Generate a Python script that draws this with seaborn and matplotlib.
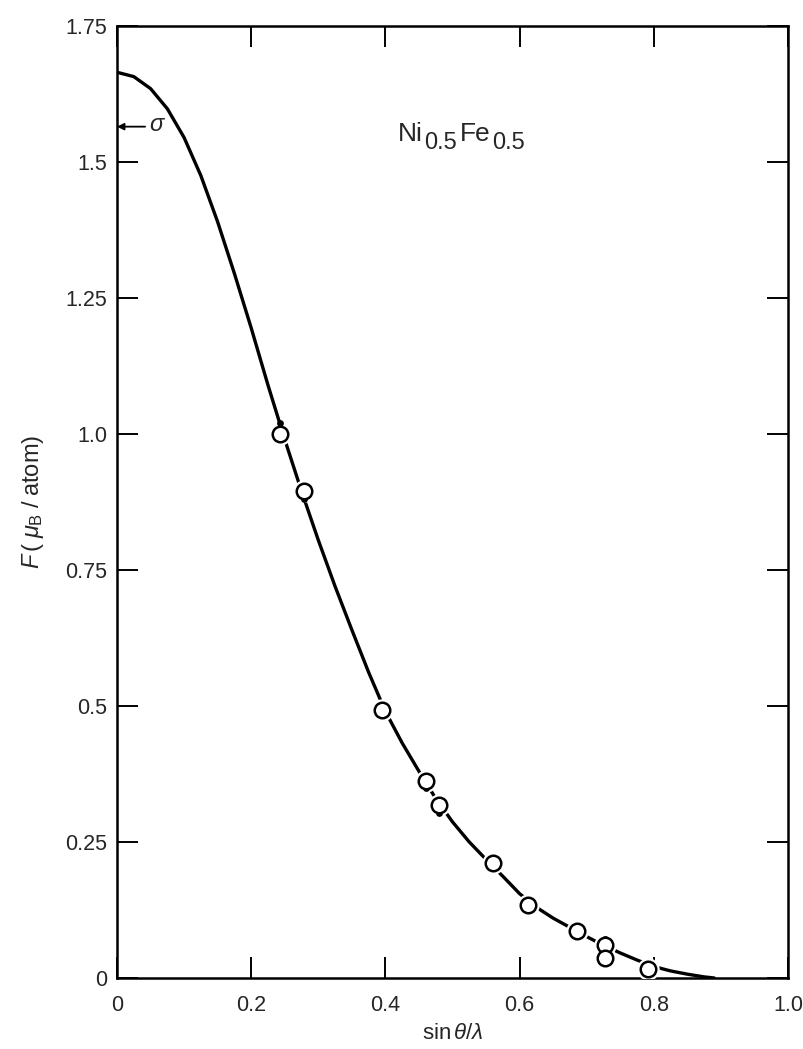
import numpy as np
import pandas as pd
import seaborn as sns
import matplotlib
matplotlib.use("Agg")
import matplotlib.pyplot as plt

# ---- data ----
curve_x = [0.0, 0.025, 0.05, 0.075, 0.1, 0.125, 0.15, 0.175, 0.2, 0.225,
           0.25, 0.275, 0.3, 0.325, 0.35, 0.375, 0.4, 0.425, 0.45, 0.475,
           0.5, 0.525, 0.55, 0.575, 0.6, 0.625, 0.65, 0.675, 0.7, 0.725,
           0.75, 0.775, 0.8, 0.825, 0.85, 0.875, 0.89]
curve_y = [1.665, 1.657, 1.635, 1.598, 1.545, 1.475, 1.390, 1.295, 1.195, 1.090,
           0.990, 0.895, 0.805, 0.720, 0.640, 0.562, 0.490, 0.432, 0.380, 0.330,
           0.287, 0.250, 0.218, 0.187, 0.155, 0.130, 0.110, 0.093, 0.076, 0.060,
           0.046, 0.033, 0.021, 0.013, 0.007, 0.002, 0.0]

open_x = [0.243, 0.278, 0.395, 0.460, 0.480, 0.560, 0.612, 0.686, 0.727, 0.727, 0.792]
open_y = [1.000, 0.895, 0.493, 0.362, 0.318, 0.212, 0.135, 0.086, 0.061, 0.036, 0.017]

filled_x = [0.243, 0.278, 0.395, 0.460, 0.480, 0.560, 0.612, 0.686, 0.727, 0.792]
filled_y = [1.020, 0.880, 0.502, 0.350, 0.303, 0.219, 0.141, 0.080, 0.071, 0.023]

x_ticks = [0, 0.2, 0.4, 0.6, 0.8, 1.0]
x_ticklabels = ["0", "0.2", "0.4", "0.6", "0.8", "1.0"]
y_ticks = [0, 0.25, 0.5, 0.75, 1.0, 1.25, 1.5, 1.75]
y_ticklabels = ["0", "0.25", "0.5", "0.75", "1.0", "1.25", "1.5", "1.75"]

sns.set_theme(style="ticks")
plt.rcParams['font.family'] = ['Liberation Sans', 'DejaVu Sans']
plt.rcParams['mathtext.fontset'] = 'custom'
plt.rcParams['mathtext.rm'] = 'Liberation Sans'
plt.rcParams['mathtext.it'] = 'Liberation Sans:italic'
plt.rcParams['mathtext.bf'] = 'Liberation Sans:bold'

fig = plt.figure(figsize=(8.04, 10.49), dpi=100)
ax = fig.add_axes([0.1455, 0.0677, 0.8346, 0.9075])

curve = pd.DataFrame({"x": curve_x, "y": curve_y})
opens = pd.DataFrame({"x": open_x, "y": open_y})
fills = pd.DataFrame({"x": filled_x, "y": filled_y})

sns.lineplot(data=curve, x="x", y="y", ax=ax, color="black", linewidth=2.4,
             sort=False, estimator=None, zorder=2)
# white halo to break the line around the circles
sns.scatterplot(data=opens, x="x", y="y", ax=ax, s=260, color="white",
                edgecolor="white", linewidth=0, zorder=3)
sns.scatterplot(data=fills, x="x", y="y", ax=ax, s=24, color="black",
                edgecolor="black", linewidth=0, zorder=4)
sns.scatterplot(data=opens, x="x", y="y", ax=ax, s=125, facecolor="white",
                edgecolor="black", linewidth=1.8, zorder=5)

ax.set_xlim(0, 1.0)
ax.set_ylim(0, 1.75)
ax.set_xticks(x_ticks)
ax.set_xticklabels(x_ticklabels)
ax.set_yticks(y_ticks)
ax.set_yticklabels(y_ticklabels)
ax.tick_params(axis="both", which="major", direction="in", length=15, width=1.4,
               labelsize=15.5, top=True, right=True, color="black")
ax.tick_params(axis="x", pad=12)
ax.tick_params(axis="y", pad=7)
for sp in ax.spines.values():
    sp.set_visible(True)
    sp.set_linewidth(1.8)
    sp.set_color("black")

ax.set_xlabel(r"sin$\,\theta/\lambda$", fontsize=16, labelpad=5)
ax.set_ylabel(r"$F\,(\;\mu_{\rm B}\;/\;{\rm atom})$", fontsize=17, labelpad=14)

t1 = ax.text(0.419, 1.53, "Ni", fontsize=19, ha="left", va="bottom")
t2 = ax.annotate("0.5", xy=(1.0, 0.0), xycoords=(t1, t1), xytext=(1, -6),
                 textcoords="offset points", fontsize=17, ha="left", va="bottom")
t3 = ax.annotate("Fe", xy=(1.0, 0.0), xycoords=(t2, t1), xytext=(2, 0),
                 textcoords="offset points", fontsize=19, ha="left", va="bottom")
t4 = ax.annotate("0.5", xy=(1.0, 0.0), xycoords=(t3, t1), xytext=(1, -6),
                 textcoords="offset points", fontsize=17, ha="left", va="bottom")

ax.annotate("", xy=(0.0, 1.565), xytext=(0.042, 1.565),
            arrowprops=dict(arrowstyle="-|>", color="black", lw=1.3,
                            mutation_scale=10, shrinkA=0, shrinkB=0))
ax.text(0.047, 1.568, r"$\sigma$", fontsize=17, ha="left", va="center")

fig.savefig("out.png", dpi=100, facecolor="white")
